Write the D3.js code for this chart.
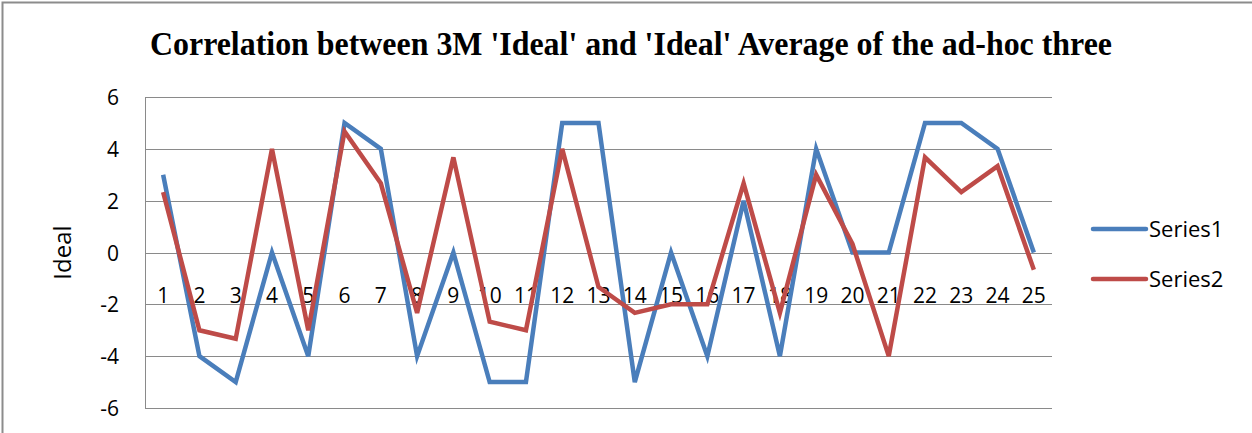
<!DOCTYPE html>
<html>
<head>
<meta charset="utf-8">
<script src="https://cdn.jsdelivr.net/npm/d3@7"></script>
<style>
  body { margin: 0; background: #fff; }
  svg { display: block; }
</style>
</head>
<body>
<div id="chart"></div>
<script>
// data
const categories = d3.range(1, 26).map(String);
const series1 = [3, -4, -5, 0, -4, 5, 4, -4, 0, -5, -5, 5, 5, -5, 0, -4, 2, -4, 4, 0, 0, 5, 5, 4, 0];
const series2 = [2.33, -3, -3.33, 4, -3, 4.67, 2.67, -2.33, 3.67, -2.67, -3, 4, -1.33, -2.33, -2, -2, 2.67, -2.33, 3, 0.33, -4, 3.67, 2.33, 3.33, -0.67];
const yTicks = [-6, -4, -2, 0, 2, 4, 6];
const seriesNames = ["Series1", "Series2"];
const colours = ["#4a7ebb", "#be4b48"];

const width = 1252, height = 433;
const plot = {left: 145, right: 1052, top: 97, bottom: 408};

const svg = d3.select("#chart").append("svg")
  .attr("width", width)
  .attr("height", height);

// chart area border (cropped on right / bottom)
svg.append("rect")
  .attr("x", 2.5).attr("y", 2.5)
  .attr("width", width + 10).attr("height", height + 10)
  .attr("fill", "none")
  .attr("stroke", "#8c8c8c")
  .attr("stroke-width", 2);

const x = d3.scaleBand().domain(categories).range([plot.left, plot.right]);
const y = d3.scaleLinear().domain([-6, 6]).range([plot.bottom, plot.top]);

// gridlines
svg.append("g").selectAll("line")
  .data(yTicks)
  .enter().append("line")
  .attr("x1", plot.left).attr("x2", plot.right)
  .attr("y1", d => Math.round(y(d)) + 0.5).attr("y2", d => Math.round(y(d)) + 0.5)
  .attr("stroke", "#8a8a8a")
  .attr("stroke-width", 1);

// y axis line
svg.append("line")
  .attr("x1", plot.left + 0.5).attr("x2", plot.left + 0.5)
  .attr("y1", plot.top).attr("y2", plot.bottom)
  .attr("stroke", "#8a8a8a");

// y tick labels
svg.append("g").selectAll("text")
  .data(yTicks)
  .enter().append("text")
  .attr("x", 119)
  .attr("y", d => y(d) + 8)
  .attr("text-anchor", "end")
  .attr("font-family", "Open Sans, sans-serif")
  .attr("font-size", "21px")
  .attr("fill", "#000")
  .text(d => d);

// y axis title
svg.append("text")
  .attr("transform", `translate(71,${y(0)}) rotate(-90)`)
  .attr("text-anchor", "middle")
  .attr("font-family", "Open Sans, sans-serif")
  .attr("font-size", "24px")
  .text("Ideal");

// category labels (drawn before lines, lines sit over them)
svg.append("g").selectAll("text")
  .data(categories)
  .enter().append("text")
  .attr("x", d => x(d) + x.bandwidth() / 2)
  .attr("y", 303)
  .attr("text-anchor", "middle")
  .attr("font-family", "Open Sans, sans-serif")
  .attr("font-size", "21px")
  .attr("fill", "#000")
  .text(d => d);

const line = d3.line()
  .x((d, i) => x(categories[i]) + x.bandwidth() / 2)
  .y(d => y(d));

[series1, series2].forEach((s, k) => {
  svg.append("path")
    .datum(s)
    .attr("d", line)
    .attr("fill", "none")
    .attr("stroke", colours[k])
    .attr("stroke-width", 4.5)
    .attr("stroke-linejoin", "miter");
});

// title
svg.append("text")
  .attr("x", 631)
  .attr("y", 55)
  .attr("text-anchor", "middle")
  .attr("font-family", "Liberation Serif, serif")
  .attr("font-weight", "bold")
  .attr("font-size", "33px")
  .attr("textLength", 962)
  .attr("lengthAdjust", "spacingAndGlyphs")
  .text("Correlation between 3M 'Ideal' and 'Ideal' Average of the ad-hoc three");

// legend
const legend = svg.append("g").attr("class", "legend");
seriesNames.forEach((name, i) => {
  const ly = 229 + i * 50;
  legend.append("line")
    .attr("x1", 1093).attr("x2", 1146)
    .attr("y1", ly).attr("y2", ly)
    .attr("stroke", colours[i])
    .attr("stroke-width", 4.5)
    .attr("stroke-linecap", "round");
  legend.append("text")
    .attr("x", 1149)
    .attr("y", ly + 8)
    .attr("font-family", "Open Sans, sans-serif")
    .attr("font-size", "22px")
    .attr("fill", "#000")
    .text(name);
});
</script>
</body>
</html>
